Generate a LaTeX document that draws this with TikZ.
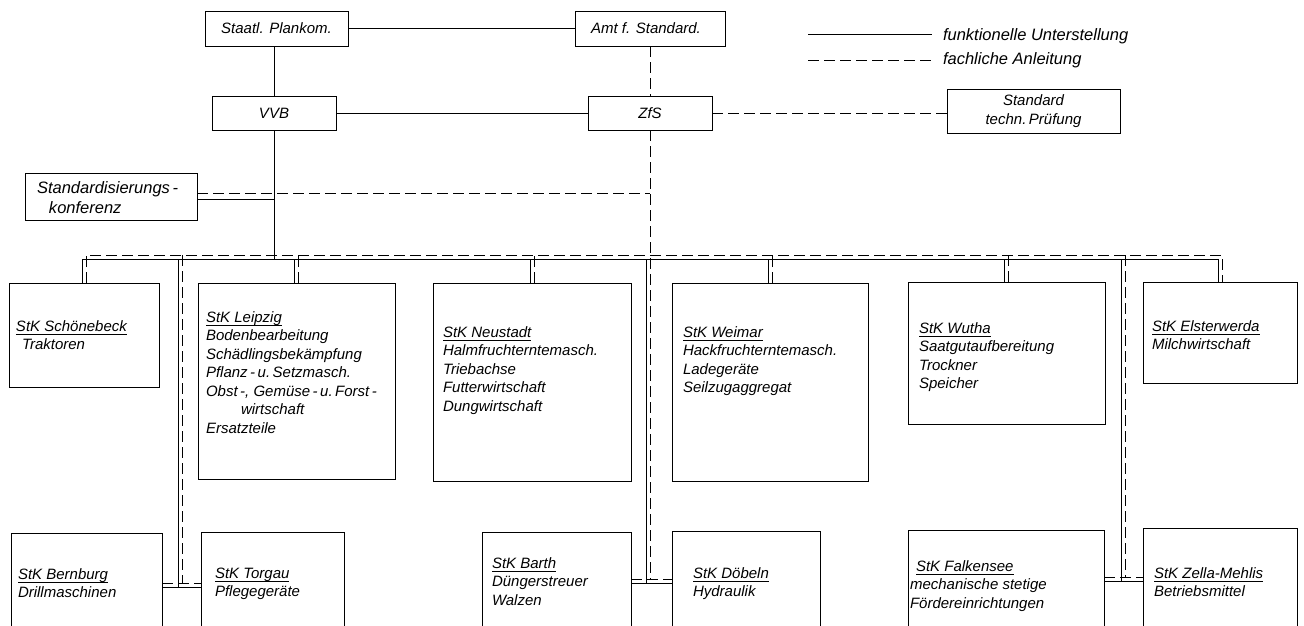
\documentclass[tikz,border=0pt]{standalone}
\usepackage{fontspec}
\setmainfont{Liberation Sans}
\newcommand\tf{\fontsize{15}{18.5}\selectfont\itshape}
\newcommand\tfl{\fontsize{16.5}{20}\selectfont\itshape}
\newcommand\stack[1]{\vtop{\halign{##\hfil\cr#1\crcr}}}
\newcommand\ul[1]{\setbox0\hbox{#1}\rlap{\rule[-4pt]{\wd0}{0.8pt}}\box0}
\tikzset{
  box/.style={draw, line width=1pt, inner sep=0pt, outer sep=0pt, anchor=north west, font=\tf, align=center},
  lbl/.style={inner sep=0pt, outer sep=0pt, anchor=base west, font=\tf},
  sol/.style={line width=1pt},
  das/.style={line width=1pt, dash pattern=on 11pt off 5pt},
}
\begin{document}
\begin{tikzpicture}[x=1pt,y=-1pt]
\useasboundingbox (0,0) rectangle (1304,625);
\clip (0,0) rectangle (1304,625);
% top level
\node[box, minimum width=143pt, minimum height=35pt] (plan) at (205,11) {Staatl. Plankom.};
\node[box, minimum width=150pt, minimum height=35pt] (amt) at (575,11) {Amt f. Standard.\hspace{8pt}};
\node[box, minimum width=124pt, minimum height=34pt] (vvb) at (212,96) {VVB};
\node[box, minimum width=124pt, minimum height=34pt] (zfs) at (588,96) {ZfS};
\node[box, minimum width=173pt, minimum height=44pt] (std) at (947,89) {Standard\\techn.\,Prüfung\hspace{12pt}};
\node[box, minimum width=172pt, minimum height=47pt] (konf) at (25,173) {};
\node[lbl, font=\tfl] (konf-t) at (37,193) {\stack{Standardisierungs\,-\cr\hspace{12pt}konferenz}};
% legend
\coordinate (l1a) at (808,34); \coordinate (l1b) at (932,34);
\coordinate (l2a) at (808,60); \coordinate (l2b) at (932,60);
\draw[sol] (l1a) -- (l1b);
\draw[das] (l2a) -- (l2b);
\node[lbl, font=\tfl] (leg1) at (943,40) {funktionelle Unterstellung};
\node[lbl, font=\tfl] (leg2) at (943,64) {fachliche Anleitung};
% StK boxes top row
\node[box, minimum width=150pt, minimum height=104pt] (sch) at (9,283) {};
\node[box, minimum width=197pt, minimum height=196pt] (lei) at (198,283) {};
\node[box, minimum width=198pt, minimum height=198pt] (neu) at (433,283) {};
\node[box, minimum width=196pt, minimum height=198pt] (wei) at (672,283) {};
\node[box, minimum width=197pt, minimum height=142pt] (wut) at (908,282) {};
\node[box, minimum width=154pt, minimum height=101pt] (els) at (1143,282) {};
% bottom row
\node[box, minimum width=151pt, minimum height=120pt] (ber) at (11,533) {};
\node[box, minimum width=143pt, minimum height=120pt] (tor) at (201,532) {};
\node[box, minimum width=149pt, minimum height=120pt] (bar) at (482,532) {};
\node[box, minimum width=148pt, minimum height=120pt] (doe) at (672,531) {};
\node[box, minimum width=196pt, minimum height=120pt] (fal) at (908,530) {};
\node[box, minimum width=154pt, minimum height=120pt] (zel) at (1143,528) {};
% texts
\node[lbl] (sch-t) at (16,331) {\stack{\ul{StK Schönebeck}\cr\hspace{6pt}Traktoren}};
\node[lbl] (lei-t) at (206,322) {\stack{\ul{StK Leipzig}\cr Bodenbearbeitung\cr Schädlingsbekämpfung\cr Pflanz\,-\,u.\,Setzmasch.\cr Obst\,-, Gemüse\,-\,u.\,Forst\,-\cr\hspace{35pt}wirtschaft\cr Ersatzteile}};
\node[lbl] (neu-t) at (443,337) {\stack{\ul{StK Neustadt}\cr Halmfruchterntemasch.\cr Triebachse\cr Futterwirtschaft\cr Dungwirtschaft}};
\node[lbl] (wei-t) at (683,337) {\stack{\ul{StK Weimar}\cr Hackfruchterntemasch.\cr Ladegeräte\cr Seilzugaggregat}};
\node[lbl] (wut-t) at (919,333) {\stack{\ul{StK Wutha}\cr Saatgutaufbereitung\cr Trockner\cr Speicher}};
\node[lbl] (els-t) at (1152,331) {\stack{\ul{StK Elsterwerda}\cr Milchwirtschaft}};
\node[lbl] (ber-t) at (18,579) {\stack{\ul{StK Bernburg}\cr Drillmaschinen}};
\node[lbl] (tor-t) at (215,578) {\stack{\ul{StK Torgau}\cr Pflegegeräte}};
\node[lbl] (bar-t) at (492,568) {\stack{\ul{StK Barth}\cr Düngerstreuer\cr Walzen}};
\node[lbl] (doe-t) at (693,578) {\stack{\ul{StK Döbeln}\cr Hydraulik}};
\node[lbl] (fal-t) at (910,571) {\stack{\hspace{6pt}\ul{StK Falkensee}\cr mechanische stetige\cr Fördereinrichtungen}};
\node[lbl] (zel-t) at (1154,578) {\stack{\ul{StK Zella-Mehlis}\cr Betriebsmittel}};
% upper connectors
\draw[sol] (plan) -- (amt);
\draw[sol] (vvb.north) -- (vvb.north |- plan.south);
\draw[sol] (vvb.east) -- (vvb.east -| zfs.west);
\draw[das] (amt) -- (zfs);
\draw[das] (zfs.east) -- (zfs.east -| std.west);
\coordinate (kd) at (0,193); \coordinate (ks) at (0,199);
\coordinate (sbus) at (0,259); \coordinate (dbus) at (0,255);
\draw[das] (konf.east |- kd) -- (zfs.south |- kd);
\draw[sol] (konf.east |- ks) -- (vvb.south |- ks);
\draw[sol] (vvb.south) -- (vvb.south |- sbus);
% drop points
\foreach \b in {sch,lei,neu,wei,wut,els}{
  \coordinate (\b-s) at ([xshift=-2pt]\b.north);
  \coordinate (\b-d) at ([xshift=2pt]\b.north);
}
\draw[sol] (sch-s) -- (sch-s |- sbus) -- (els-s |- sbus) -- (els-s);
\draw[das] (sch-d) -- (sch-d |- dbus) -- (els-d |- dbus) -- (els-d);
\foreach \b in {lei,neu,wei,wut}{
  \draw[sol] (\b-s) -- (\b-s |- sbus);
  \draw[das] (\b-d) -- (\b-d |- dbus);
}
% trunks to the lower row
\coordinate (sJL) at (178,587); \coordinate (dJL) at (182,583);
\coordinate (sJC) at (646,583); \coordinate (dJC) at (650,579);
\coordinate (sJR) at (1121,581); \coordinate (dJR) at (1125,577);
\draw[sol] (sJL |- sbus) -- (sJL);
\draw[das] (dJL |- dbus) -- (dJL);
\draw[sol] (ber.east |- sJL) -- (tor.west |- sJL);
\draw[das] (ber.east |- dJL) -- (tor.west |- dJL);
\draw[sol] (sJC |- sbus) -- (sJC);
\draw[das] (zfs.south) -- (zfs.south |- dJC);
\draw[sol] (bar.east |- sJC) -- (doe.west |- sJC);
\draw[das] (bar.east |- dJC) -- (doe.west |- dJC);
\draw[sol] (sJR |- sbus) -- (sJR);
\draw[das] (dJR |- dbus) -- (dJR);
\draw[sol] (fal.east |- sJR) -- (zel.west |- sJR);
\draw[das] (fal.east |- dJR) -- (zel.west |- dJR);
\end{tikzpicture}
\end{document}
